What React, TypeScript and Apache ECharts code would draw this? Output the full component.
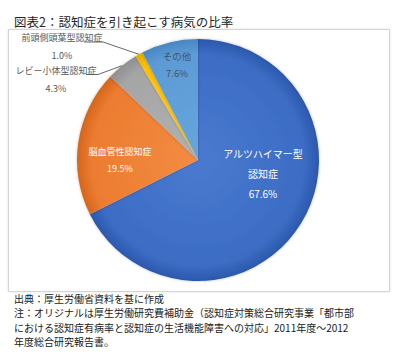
import React, { useEffect, useRef } from 'react';
import * as echarts from 'echarts';

const titleText = '図表2：認知症を引き起こす病気の比率';
const categories = ['アルツハイマー型認知症', '脳血管性認知症', 'レビー小体型認知症', '前頭側頭葉型認知症', 'その他'];
const labelNames = ['アルツハイマー型\n認知症', '脳血管性認知症', 'レビー小体型認知症', '前頭側頭葉型認知症', 'その他'];
const values = [67.6, 19.5, 4.3, 1.0, 7.6];
const noteLines = [
  '出典：厚生労働省資料を基に作成',
  '注：オリジナルは厚生労働研究費補助金（認知症対策総合研究事業「都市部',
  'における認知症有病率と認知症の生活機能障害への対応」2011年度～2012',
  '年度総合研究報告書。',
];

// style: [light, base, dark]
const sliceColors = [
  ['#4a7ad0', '#3c6cc4', '#2b58ab'],
  ['#f28c42', '#ec7c30', '#d5661c'],
  ['#b2b2b2', '#a5a5a5', '#909090'],
  ['#ffc92e', '#ffc000', '#e6ad00'],
  ['#68a5dc', '#5b9bd5', '#4886c2'],
];
const labelColors = ['#ffffff', '#ffffff', '#595959', '#595959', '#44546a'];
const labelSizes = [10, 9, 9, 9, 9.5];
const labelHeights = [20, 17, 18, 18, 17];
const outside = [false, false, true, true, false];
const labelPos = [
  [263, 173],
  [120, 159.5],
  [56, 79],
  [62, 46],
  [177, 64.5],
];
const guideEnds: Record<number, number[][]> = {
  2: [[98, 74.5], [86, 74.5]],
  3: [[103, 42], [84, 42]],
};

const FONT = '"Noto Sans CJK JP", "Noto Sans", sans-serif';

export default function App() {
  const ref = useRef<HTMLDivElement>(null);
  useEffect(() => {
    const chart = echarts.init(ref.current!, null, { renderer: 'svg' });
    const cx = 198, cy = 160, R = 121;
    const grad = (i: number) => ({
      type: 'radial',
      x: cx,
      y: cy,
      r: R,
      global: true,
      colorStops: [
        { offset: 0, color: sliceColors[i][0] },
        { offset: 0.88, color: sliceColors[i][1] },
        { offset: 1, color: sliceColors[i][2] },
      ],
    });
    const data = categories.map((name, i) => ({
      name,
      value: values[i],
      itemStyle: { color: grad(i) },
      label: {
        position: outside[i] ? 'outside' : 'inside',
        color: labelColors[i],
        fontSize: labelSizes[i],
        lineHeight: labelHeights[i],
      },
      labelLine: { show: outside[i], length: 8, length2: 8, lineStyle: { color: '#404040', width: 0.8 } },
    }));
    const option: any = {
      animation: false,
      backgroundColor: '#ffffff',
      graphic: [
        {
          type: 'rect',
          z: -10,
          shape: { x: 8.5, y: 29.5, width: 381, height: 262 },
          style: { fill: '#ffffff', stroke: '#d4d4d4', lineWidth: 1, shadowBlur: 2, shadowColor: 'rgba(0,0,0,0.12)' },
        },
        {
          type: 'text',
          x: 14,
          y: 21,
          style: { text: titleText, fontSize: 12.5, fontFamily: FONT, fill: '#262626', verticalAlign: 'middle' },
        },
        ...noteLines.map((t, i) => ({
          type: 'text',
          x: 14,
          y: 298 + i * 14.6,
          style: { text: t, fontSize: 10, fontFamily: FONT, fill: '#1a1a1a', verticalAlign: 'middle' },
        })),
      ],
      series: [
        {
          type: 'pie',
          center: [cx, cy],
          radius: R,
          startAngle: 90,
          clockwise: true,
          avoidLabelOverlap: false,
          emphasis: { disabled: true },
          itemStyle: { shadowBlur: 3, shadowColor: 'rgba(0,0,0,0.25)' },
          label: {
            show: true,
            fontFamily: FONT,
            align: 'center',
            formatter: (p: any) => labelNames[p.dataIndex] + '\n' + Number(p.value).toFixed(1) + '%',
          },
          labelLayout: (p: any) => {
            const i = p.dataIndex;
            const res: any = { x: labelPos[i][0], y: labelPos[i][1], align: 'center', verticalAlign: 'middle' };
            if (guideEnds[i] && p.labelLinePoints) {
              res.labelLinePoints = [p.labelLinePoints[0], ...guideEnds[i]];
            }
            return res;
          },
          data,
        },
      ],
    };
    chart.setOption(option);
    return () => chart.dispose();
  }, []);
  return <div ref={ref} style={{ position: 'absolute', left: 0, top: 0, width: 403, height: 361 }} />;
}
